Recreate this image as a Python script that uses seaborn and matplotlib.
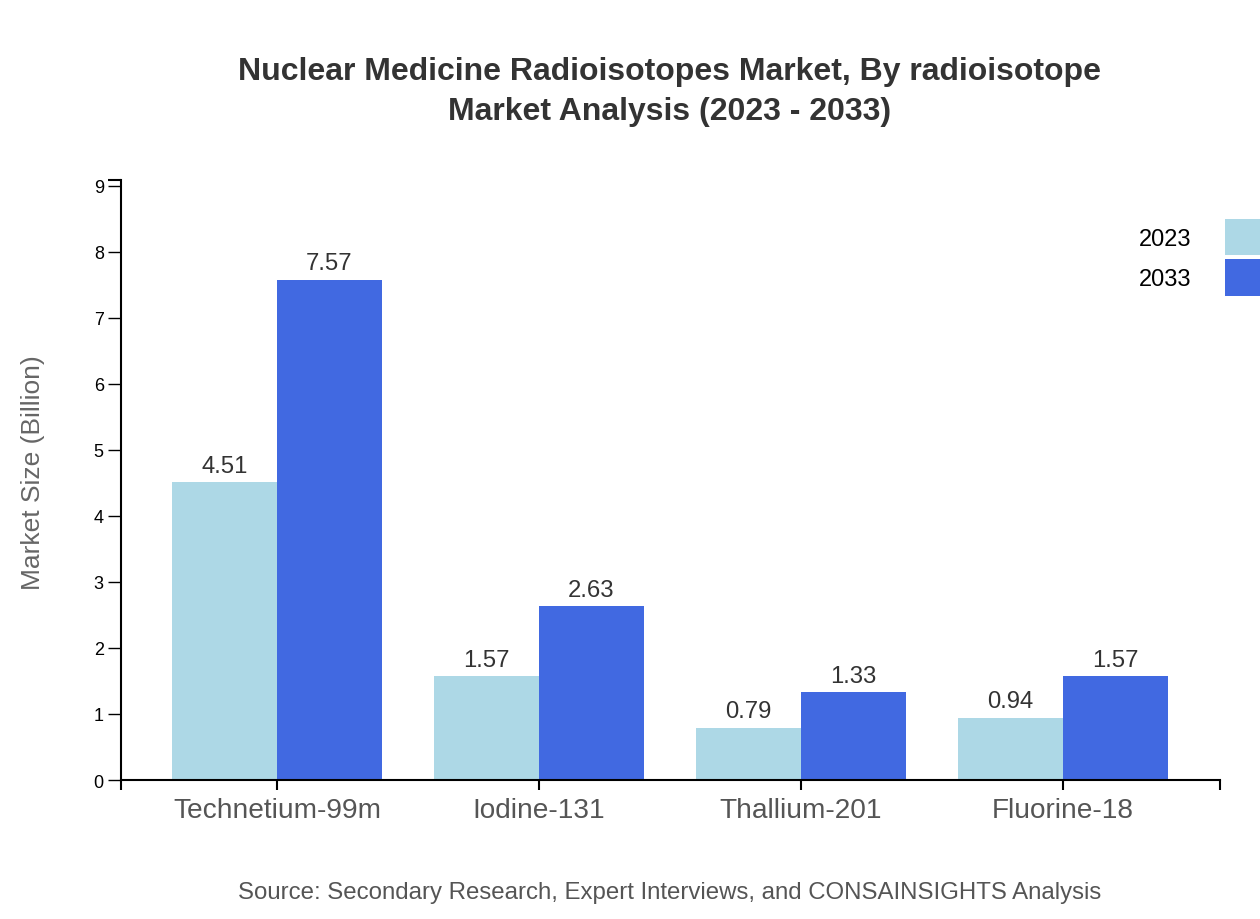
import matplotlib
matplotlib.use("Agg")
import matplotlib.pyplot as plt
from matplotlib.patches import Patch
from matplotlib.ticker import FixedLocator
import seaborn as sns
import pandas as pd

# ---- data ----
categories = ["Technetium-99m", "Iodine-131", "Thallium-201", "Fluorine-18"]
years = ["2023", "2033"]
values_2023 = [4.51, 1.57, 0.79, 0.94]
values_2033 = [7.57, 2.63, 1.33, 1.57]
colors = ["#ADD8E6", "#4169E1"]
y_ticks = [0, 1, 2, 3, 4, 5, 6, 7, 8, 9]

title_line1 = "Nuclear Medicine Radioisotopes Market, By radioisotope"
title_line2 = "Market Analysis (2023 - 2033)"
y_label = "Market Size (Billion)"
source = "Source: Secondary Research, Expert Interviews, and CONSAINSIGHTS Analysis"

df = pd.DataFrame({
    "radioisotope": categories * 2,
    "year": [years[0]] * len(categories) + [years[1]] * len(categories),
    "value": values_2023 + values_2033,
})

sns.set_theme(style="white")
plt.rcParams["font.family"] = ["Liberation Sans", "DejaVu Sans"]

W, H = 1260, 920
fig = plt.figure(figsize=(W / 100, H / 100), dpi=100)
ax = fig.add_axes([121 / W, 1 - 781 / H, (1220 - 121) / W, (781 - 181) / H])

sns.barplot(data=df, x="radioisotope", y="value", hue="year", hue_order=years,
            order=categories, palette=colors, saturation=1, width=0.8,
            errorbar=None, legend=False, ax=ax)

ymax = max(values_2023 + values_2033) * 1.2
ax.set_ylim(0, ymax)
ax.set_xlim(-0.595, 3.6)

for cont, vals in zip(ax.containers, [values_2023, values_2033]):
    for bar in cont:
        bar.set_edgecolor("none")
    ax.bar_label(cont, labels=[f"{v:.2f}" for v in vals], padding=4,
                 fontsize=17.2, color="#333333")

ax.set_xlabel("")
ax.set_ylabel("")
ax.set_yticks(y_ticks)
ax.set_yticklabels([str(t) for t in y_ticks])
ax.yaxis.set_minor_locator(FixedLocator([ymax]))
ax.xaxis.set_minor_locator(FixedLocator([-0.595, 3.6]))

for s in ["top", "right"]:
    ax.spines[s].set_visible(False)
for s in ["left", "bottom"]:
    ax.spines[s].set_color("black")
    ax.spines[s].set_linewidth(1.5)

ax.tick_params(axis="y", which="major", length=9.4, width=1.0, color="black",
               labelsize=13, labelcolor="black", pad=3, left=True)
ax.tick_params(axis="y", which="minor", length=9.4, width=1.5, color="black", left=True)
ax.tick_params(axis="x", which="major", length=7.2, width=1.5, color="black",
               labelsize=20.2, labelcolor="#555555", pad=5, bottom=True)
ax.tick_params(axis="x", which="minor", length=7.2, width=1.5, color="black", bottom=True)

# legend
handles = [Patch(facecolor=c, edgecolor="none") for c in colors]
fig.legend(handles, years, loc="upper left", bbox_to_anchor=(1139 / W, 1 - 220 / H),
           frameon=False, markerfirst=False, fontsize=17, handlelength=2.0,
           handleheight=2.0, handletextpad=1.4, labelspacing=0.17, borderpad=0,
           borderaxespad=0, labelcolor="black")

fig.text(669.5 / W, 1 - 80 / H, title_line1, ha="center", va="baseline", fontsize=23,
         fontweight="bold", color="#333333")
fig.text(669.5 / W, 1 - 120 / H, title_line2, ha="center", va="baseline", fontsize=23,
         fontweight="bold", color="#333333")
fig.text(33 / W, 1 - 473 / H, y_label, rotation=90, ha="center", va="center",
         fontsize=19, color="#666666")
fig.text(670 / W, 1 - 899 / H, source, ha="center", va="baseline", fontsize=17.3,
         color="#555555")

fig.savefig("out.png", dpi=100)
